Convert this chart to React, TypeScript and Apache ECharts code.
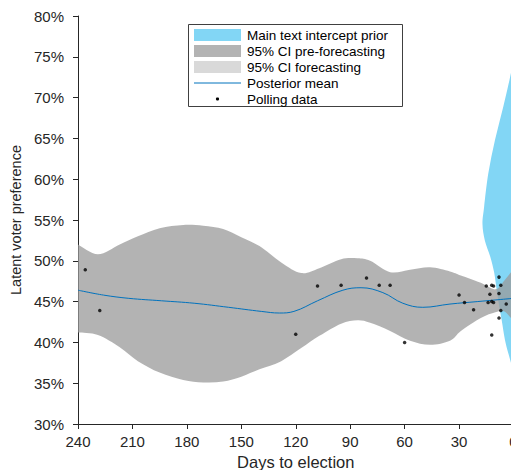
import React, { useEffect, useRef } from "react";
import * as echarts from "echarts";

// ---- Data ----
const bandDays = [240, 229, 217, 207, 195, 182, 171, 160, 150, 140, 128, 117, 107, 95, 86, 79, 68, 57, 46, 35, 29, 18, 10, 5, 0];
const bandUpper = [52.0, 50.8, 52.0, 53.0, 54.0, 54.4, 54.3, 53.9, 52.9, 51.8, 49.8, 48.5, 49.1, 50.2, 50.3, 50.0, 48.6, 48.9, 49.2, 48.7, 48.2, 47.3, 46.5, 47.6, 49.0];
const bandLower = [41.2, 40.9, 39.4, 37.7, 36.3, 35.4, 35.1, 35.2, 35.8, 36.7, 37.7, 39.3, 40.8, 42.3, 42.7, 42.4, 41.4, 40.2, 39.7, 40.2, 41.4, 43.0, 43.7, 43.8, 42.6];

const meanDays = [240, 226, 212, 194, 176, 157, 139, 129, 121, 108, 94, 84, 72, 61, 50, 35, 20, 0];
const meanPct = [46.4, 45.8, 45.4, 45.1, 44.8, 44.3, 43.8, 43.6, 43.8, 45.1, 46.4, 46.7, 46.1, 44.8, 44.3, 44.7, 45.0, 45.4];

const pollDays = [236, 228, 120, 108, 95, 81, 74, 68, 60, 30, 27, 22, 15, 12, 11, 13, 14, 12, 11, 8, 7, 8, 4, 7, 8, 12];
const pollPct = [48.9, 43.9, 41.0, 46.9, 47.0, 47.9, 47.0, 47.0, 40.0, 45.8, 44.9, 44.0, 46.9, 47.0, 46.9, 45.9, 44.9, 45.0, 44.9, 48.0, 47.0, 46.0, 44.7, 43.9, 43.0, 40.9];

// prior density (violin centred on election day): percent level and half-width in days
const priorPct = [75.0, 73.0, 68.9, 64.8, 60.7, 56.6, 54.5, 52.5, 50.5, 48.5, 46.0, 42.7, 40.3, 38.7, 37.5, 36.0];
const priorHalfWidth = [0, 1.4, 5.6, 10.2, 13.9, 16.2, 17.1, 15.8, 12.8, 10.6, 9.0, 6.5, 4.7, 2.9, 1.4, 0];

const xTicks = { min: 0, max: 240, interval: 30 };
const yTicks = { min: 30, max: 80, interval: 5 };

const legendLabels = [
  "Main text intercept prior",
  "95% CI pre-forecasting",
  "95% CI forecasting",
  "Posterior mean",
  "Polling data",
];

const FONT = '"Liberation Sans", Arial, Helvetica, sans-serif';
const PRIOR_COLOR = "#82d6f5";
const BAND_COLOR = "rgba(153,153,153,0.75)";
const FORECAST_COLOR = "#d9d9d9";
const MEAN_COLOR = "#0072bd";
const AXIS_COLOR = "#262626";

// Catmull-Rom spline through pixel points -> cubic bezier path segments
function splineSegs(pts: number[][]): string {
  let d = "";
  for (let i = 0; i < pts.length - 1; i++) {
    const p0 = pts[Math.max(0, i - 1)];
    const p1 = pts[i];
    const p2 = pts[i + 1];
    const p3 = pts[Math.min(pts.length - 1, i + 2)];
    const c1x = p1[0] + (p2[0] - p0[0]) / 6;
    const c1y = p1[1] + (p2[1] - p0[1]) / 6;
    const c2x = p2[0] - (p3[0] - p1[0]) / 6;
    const c2y = p2[1] - (p3[1] - p1[1]) / 6;
    d += ` C${c1x.toFixed(2)},${c1y.toFixed(2)} ${c2x.toFixed(2)},${c2y.toFixed(2)} ${p2[0].toFixed(2)},${p2[1].toFixed(2)}`;
  }
  return d;
}

export default function App() {
  const ref = useRef<HTMLDivElement>(null);

  useEffect(() => {
    if (!ref.current) return;
    const chart = echarts.init(ref.current, undefined, { renderer: "svg" });

    const legendX = 194;
    const legendTextX = 247;
    const rowY = (i: number) => 35 + i * 16;

    const graphic: any[] = [
      {
        type: "rect",
        shape: { x: 188.5, y: 24.5, width: 214, height: 82 },
        style: { fill: "#ffffff", stroke: "#404040", lineWidth: 1 },
        z: 100,
      },
      {
        type: "rect",
        shape: { x: legendX, y: rowY(0) - 6, width: 47, height: 12 },
        style: { fill: PRIOR_COLOR },
        z: 101,
      },
      {
        type: "rect",
        shape: { x: legendX, y: rowY(1) - 6, width: 47, height: 12 },
        style: { fill: "#b3b3b3" },
        z: 101,
      },
      {
        type: "rect",
        shape: { x: legendX, y: rowY(2) - 6, width: 47, height: 12 },
        style: { fill: FORECAST_COLOR },
        z: 101,
      },
      {
        type: "line",
        shape: { x1: legendX, y1: rowY(3), x2: legendX + 47, y2: rowY(3) },
        style: { stroke: MEAN_COLOR, lineWidth: 1 },
        z: 101,
      },
      {
        type: "circle",
        shape: { cx: legendX + 23.5, cy: rowY(4), r: 1.6 },
        style: { fill: "#000" },
        z: 101,
      },
      ...legendLabels.map((t, i) => ({
        type: "text",
        x: legendTextX,
        y: rowY(i),
        style: {
          text: t,
          fontSize: 13.5,
          fontFamily: FONT,
          fill: "#000",
          align: "left",
          verticalAlign: "middle",
        },
        z: 101,
      })),
    ];

    const option: any = {
      animation: false,
      backgroundColor: "#ffffff",
      grid: {
        left: 78,
        top: 16,
        width: 435.5,
        height: 408,
        containLabel: false,
        outerBoundsMode: "none",
      },
      xAxis: {
        type: "value",
        inverse: true,
        min: xTicks.min,
        max: xTicks.max,
        interval: xTicks.interval,
        name: "Days to election",
        nameLocation: "middle",
        nameGap: 27,
        nameTextStyle: { fontSize: 16.5, fontFamily: FONT, color: AXIS_COLOR },
        axisLine: { show: true, onZero: false, lineStyle: { color: AXIS_COLOR, width: 1 } },
        axisTick: { show: true, inside: false, length: 5, lineStyle: { color: AXIS_COLOR } },
        axisLabel: { fontSize: 15, fontFamily: FONT, color: AXIS_COLOR, margin: 10, hideOverlap: false },
        splitLine: { show: false },
      },
      yAxis: {
        type: "value",
        min: yTicks.min,
        max: yTicks.max,
        interval: yTicks.interval,
        name: "Latent voter preference",
        nameLocation: "middle",
        nameGap: 52,
        nameTextStyle: { fontSize: 14.5, fontFamily: FONT, color: AXIS_COLOR },
        axisLine: { show: true, onZero: false, lineStyle: { color: AXIS_COLOR, width: 1 } },
        axisTick: { show: true, inside: false, length: 5, lineStyle: { color: AXIS_COLOR } },
        axisLabel: { fontSize: 15, fontFamily: FONT, color: AXIS_COLOR, margin: 14, formatter: "{value}%" },
        splitLine: { show: false },
      },
      graphic,
      series: [
        {
          name: "Main text intercept prior",
          type: "custom",
          clip: true,
          silent: true,
          data: [[0, 55]],
          encode: { x: 0, y: 1 },
          renderItem: (_params: any, api: any) => {
            const pts: number[][] = [];
            for (let i = 0; i < priorPct.length; i++) {
              pts.push(api.coord([priorHalfWidth[i], priorPct[i]]));
            }
            for (let i = priorPct.length - 2; i >= 0; i--) {
              pts.push(api.coord([-priorHalfWidth[i], priorPct[i]]));
            }
            const d = `M${pts[0][0].toFixed(2)},${pts[0][1].toFixed(2)}` + splineSegs(pts) + " Z";
            return {
              type: "path",
              shape: { pathData: d },
              style: { fill: PRIOR_COLOR },
            };
          },
          z: 1,
        },
        {
          name: "95% CI pre-forecasting",
          type: "custom",
          clip: true,
          silent: true,
          data: [[0, 45]],
          encode: { x: 0, y: 1 },
          renderItem: (_params: any, api: any) => {
            const up = bandDays.map((d, i) => api.coord([d, bandUpper[i]]));
            const lo = bandDays.map((d, i) => api.coord([d, bandLower[i]])).reverse();
            const d =
              `M${up[0][0].toFixed(2)},${up[0][1].toFixed(2)}` +
              splineSegs(up) +
              ` L${lo[0][0].toFixed(2)},${lo[0][1].toFixed(2)}` +
              splineSegs(lo) +
              " Z";
            return {
              type: "path",
              shape: { pathData: d },
              style: { fill: BAND_COLOR },
            };
          },
          z: 2,
        },
        {
          name: "Posterior mean",
          type: "line",
          smooth: 0.4,
          symbol: "none",
          silent: true,
          lineStyle: { color: MEAN_COLOR, width: 1 },
          data: meanDays.map((d, i) => [d, meanPct[i]]),
          z: 3,
        },
        {
          name: "Polling data",
          type: "scatter",
          symbol: "circle",
          symbolSize: 3.5,
          silent: true,
          itemStyle: { color: "#000" },
          data: pollDays.map((d, i) => [d, pollPct[i]]),
          z: 4,
        },
      ],
    };

    chart.setOption(option);
    return () => chart.dispose();
  }, []);

  return (
    <div
      ref={ref}
      style={{ position: "fixed", left: 0, top: 0, width: 511, height: 470 }}
    />
  );
}
